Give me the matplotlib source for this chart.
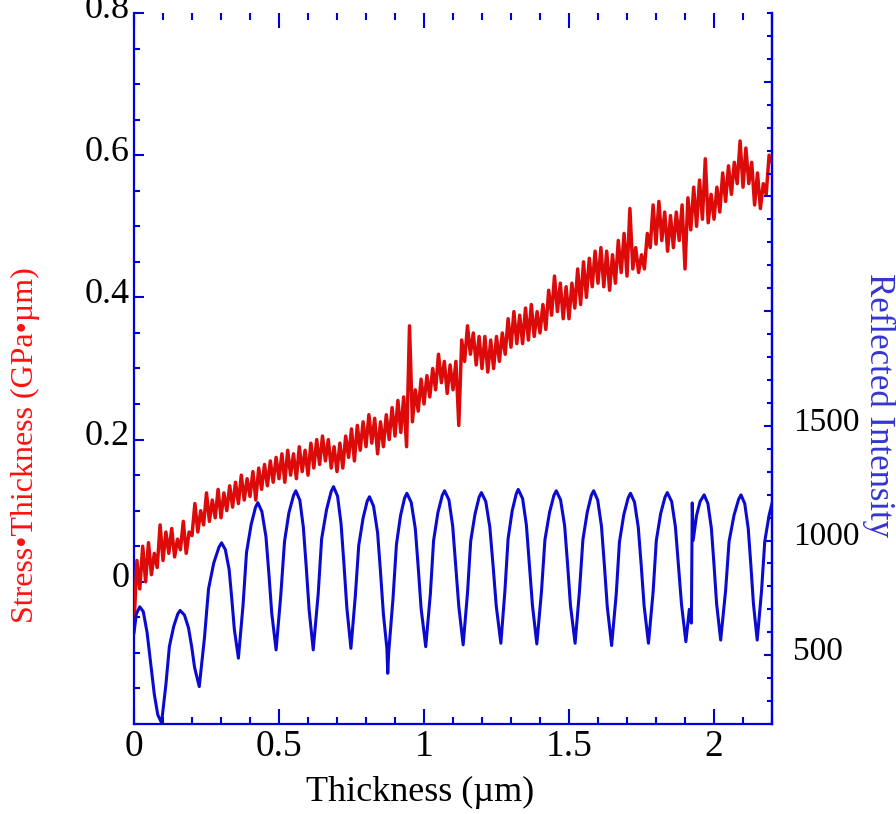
import numpy as np
import matplotlib

matplotlib.use("Agg")
import matplotlib.pyplot as plt
from matplotlib.ticker import MultipleLocator, FixedLocator, FixedFormatter
from matplotlib.transforms import ScaledTranslation

plt.rcParams["font.family"] = ["Liberation Serif", "DejaVu Serif"]

# stress-thickness trace (GPa*um), sampled every 0.01 um from 0 to 2.2
red_x = np.linspace(0.0, 2.2, 221)
red_y = [
    -0.06, 0.03, -0.01, 0.05, 0.00, 0.055, 0.01, 0.04, 0.02, 0.08,
    0.03, 0.07, 0.04, 0.075, 0.035, 0.06, 0.045, 0.085, 0.04, 0.07,
    0.065, 0.11, 0.07, 0.10, 0.08, 0.125, 0.085, 0.115, 0.09, 0.13,
    0.09, 0.125, 0.10, 0.135, 0.105, 0.14, 0.11, 0.15, 0.115, 0.145,
    0.12, 0.155, 0.115, 0.16, 0.13, 0.165, 0.135, 0.17, 0.14, 0.175,
    0.145, 0.18, 0.14, 0.185, 0.15, 0.18, 0.145, 0.19, 0.155, 0.185,
    0.15, 0.195, 0.16, 0.20, 0.165, 0.205, 0.17, 0.20, 0.16, 0.19,
    0.155, 0.195, 0.16, 0.205, 0.175, 0.215, 0.17, 0.22, 0.185, 0.225,
    0.19, 0.235, 0.195, 0.23, 0.18, 0.225, 0.19, 0.235, 0.20, 0.245,
    0.205, 0.255, 0.21, 0.26, 0.19, 0.36, 0.225, 0.27, 0.24, 0.285,
    0.25, 0.29, 0.26, 0.30, 0.27, 0.32, 0.28, 0.31, 0.265, 0.305,
    0.27, 0.31, 0.22, 0.34, 0.31, 0.36, 0.32, 0.35, 0.305, 0.345,
    0.30, 0.345, 0.295, 0.34, 0.30, 0.345, 0.31, 0.35, 0.32, 0.37,
    0.33, 0.38, 0.335, 0.375, 0.335, 0.385, 0.34, 0.39, 0.345, 0.38,
    0.35, 0.39, 0.355, 0.41, 0.375, 0.43, 0.38, 0.42, 0.37, 0.415,
    0.37, 0.42, 0.385, 0.44, 0.39, 0.45, 0.40, 0.455, 0.415, 0.465,
    0.42, 0.47, 0.415, 0.465, 0.41, 0.46, 0.42, 0.48, 0.435, 0.49,
    0.43, 0.525, 0.44, 0.47, 0.435, 0.46, 0.44, 0.49, 0.47, 0.53,
    0.475, 0.535, 0.48, 0.52, 0.465, 0.515, 0.47, 0.52, 0.48, 0.53,
    0.44, 0.54, 0.495, 0.555, 0.50, 0.565, 0.51, 0.595, 0.505, 0.545,
    0.51, 0.555, 0.52, 0.575, 0.535, 0.585, 0.545, 0.59, 0.56, 0.62,
    0.555, 0.61, 0.56, 0.59, 0.53, 0.575, 0.525, 0.56, 0.545, 0.60,
    0.59,
]

# reflected intensity trace
blue_x = [
    0.000, 0.008, 0.020, 0.032, 0.045, 0.058, 0.070, 0.082, 0.095,
    0.110, 0.122, 0.137, 0.151, 0.159, 0.174, 0.188, 0.199, 0.209, 0.225,
    0.243, 0.257, 0.275, 0.293, 0.302, 0.315, 0.328, 0.337, 0.346, 0.360,
    0.376, 0.388, 0.404, 0.419, 0.427, 0.441, 0.455, 0.465, 0.475, 0.490,
    0.506, 0.519, 0.534, 0.550, 0.558, 0.572, 0.584, 0.594, 0.604, 0.618,
    0.635, 0.647, 0.664, 0.680, 0.688, 0.702, 0.714, 0.724, 0.734, 0.748,
    0.763, 0.775, 0.790, 0.804, 0.812, 0.826, 0.840, 0.850, 0.860, 0.872,
    0.875, 0.878, 0.893, 0.905, 0.919, 0.933, 0.941, 0.956, 0.970, 0.980,
    0.990, 1.006, 1.022, 1.033, 1.048, 1.063, 1.071, 1.086, 1.099, 1.109,
    1.120, 1.135, 1.150, 1.161, 1.176, 1.190, 1.198, 1.213, 1.227, 1.238,
    1.249, 1.265, 1.279, 1.290, 1.304, 1.318, 1.325, 1.340, 1.353, 1.363,
    1.374, 1.389, 1.405, 1.417, 1.433, 1.448, 1.456, 1.471, 1.485, 1.495,
    1.505, 1.521, 1.536, 1.548, 1.563, 1.577, 1.585, 1.599, 1.612, 1.622,
    1.632, 1.647, 1.663, 1.674, 1.689, 1.704, 1.712, 1.726, 1.739, 1.749,
    1.759, 1.774, 1.790, 1.801, 1.816, 1.831, 1.839, 1.854, 1.867, 1.877,
    1.888, 1.903, 1.915, 1.922, 1.925, 1.928, 1.940, 1.952, 1.966, 1.979,
    1.991, 2.000, 2.009, 2.023, 2.040, 2.052, 2.069, 2.085, 2.093, 2.106,
    2.118, 2.127, 2.136, 2.149, 2.164, 2.175, 2.190, 2.200,
]
blue_y = [
    597, 680, 711, 690, 600, 460, 330, 240, 205,
    372, 538, 626, 680, 695, 675, 619, 536, 446, 363,
    576, 789, 902, 971, 990, 960, 874, 749, 613, 487,
    718, 948, 1070, 1145, 1165, 1126, 1017, 857, 683, 523,
    759, 995, 1120, 1196, 1217, 1175, 1057, 884, 696, 523,
    765, 1007, 1135, 1214, 1235, 1193, 1073, 897, 706, 530,
    755, 979, 1098, 1171, 1191, 1150, 1034, 863, 679, 530,
    421, 508, 745, 983, 1108, 1185, 1206, 1166, 1052, 885,
    704, 537, 768, 999, 1122, 1197, 1217, 1177, 1062, 894,
    713, 545, 771, 997, 1116, 1189, 1209, 1170, 1058, 894,
    716, 552, 780, 1008, 1129, 1203, 1223, 1183, 1068, 899,
    717, 549, 776, 1003, 1123, 1197, 1217, 1177, 1064, 898,
    718, 552, 778, 1004, 1124, 1197, 1217, 1176, 1062, 893,
    711, 542, 768, 994, 1113, 1186, 1206, 1167, 1056, 892,
    715, 552, 775, 999, 1117, 1189, 1209, 1170, 1059, 897,
    721, 559, 700, 640, 1164, 1000, 1110, 1170, 1199, 1161,
    1053, 895, 724, 566, 781, 996, 1110, 1180, 1199, 1161,
    1053, 895, 724, 566, 781, 996, 1110, 1162,
]

x_major = [0, 0.5, 1, 1.5, 2]
x_labels = ["0", "0.5", "1", "1.5", "2"]
left_major = [0, 0.2, 0.4, 0.6, 0.8]
left_labels = ["0", "0.2", "0.4", "0.6", "0.8"]
right_major = [500, 1000, 1500, 2000, 2500, 3000]
right_labels = ["500", "1000", "1500", "", "", ""]

AX_BLUE = "#0000dd"
RED = "#dd0a0a"

fig = plt.figure(figsize=(8.96, 8.14), dpi=100)
ax = fig.add_axes([134 / 896, 1 - 724 / 814, 638 / 896, 711 / 814])
ax2 = ax.twinx()

ax.plot(red_x, red_y, color=RED, lw=2.5, zorder=3)
ax2.plot(blue_x, blue_y, color="#0a0ad0", lw=2.2, zorder=3)

ax.set_xlim(0, 2.2)
ax.set_ylim(-0.2, 0.8)
ax2.set_ylim(200, 3300)

ax.xaxis.set_major_locator(FixedLocator(x_major))
ax.xaxis.set_major_formatter(FixedFormatter(x_labels))
ax.xaxis.set_minor_locator(MultipleLocator(0.1))
ax.yaxis.set_major_locator(FixedLocator(left_major))
ax.yaxis.set_major_formatter(FixedFormatter(left_labels))
ax.yaxis.set_minor_locator(MultipleLocator(0.05))
ax2.yaxis.set_major_locator(FixedLocator(right_major))
ax2.yaxis.set_major_formatter(FixedFormatter(right_labels))
ax2.yaxis.set_minor_locator(MultipleLocator(100))

for a in (ax, ax2):
    a.spines["top"].set_visible(False)
    for s in ("left", "right", "bottom"):
        a.spines[s].set_color(AX_BLUE)
        a.spines[s].set_linewidth(1.6)
ax2.spines["left"].set_visible(False)
ax2.spines["bottom"].set_visible(False)

ax.tick_params(axis="x", which="major", direction="in", top=True, color=AX_BLUE,
               length=10.5, width=1.5, labelsize=27, pad=4)
ax.tick_params(axis="x", which="minor", direction="in", top=True, color=AX_BLUE,
               length=5, width=1.5)
ax.tick_params(axis="y", which="major", direction="in", right=False, color=AX_BLUE,
               length=7.5, width=1.5, labelsize=26, pad=3)
ax.tick_params(axis="y", which="minor", direction="in", right=False, color=AX_BLUE,
               length=4.5, width=1.5)
ax2.tick_params(axis="y", which="major", direction="in", color=AX_BLUE,
                length=5.5, width=1.5, labelsize=24, pad=15)
ax2.tick_params(axis="y", which="minor", direction="in", color=AX_BLUE,
                length=3.5, width=1.5)

# y tick labels sit a little above their ticks in the original
lift = ScaledTranslation(0, 7 / 100, fig.dpi_scale_trans)
for lab in ax.get_yticklabels() + ax2.get_yticklabels():
    lab.set_transform(lab.get_transform() + lift)

fig.text(420 / 896, 1 - 792 / 814, "Thickness (\u00b5m)", fontsize=26,
         ha="center", va="center", color="black")
fig.text(25 / 896, 1 - 445 / 814, "Stress\u2022Thickness (GPa\u2022\u00b5m)", fontsize=23,
         ha="center", va="center", rotation=90, color="#ff1010")
fig.text(879 / 896, 1 - 405 / 814, "Reflected Intensity", fontsize=25,
         ha="center", va="center", rotation=270, color="#3535d0")

fig.savefig("out.png", dpi=100)
